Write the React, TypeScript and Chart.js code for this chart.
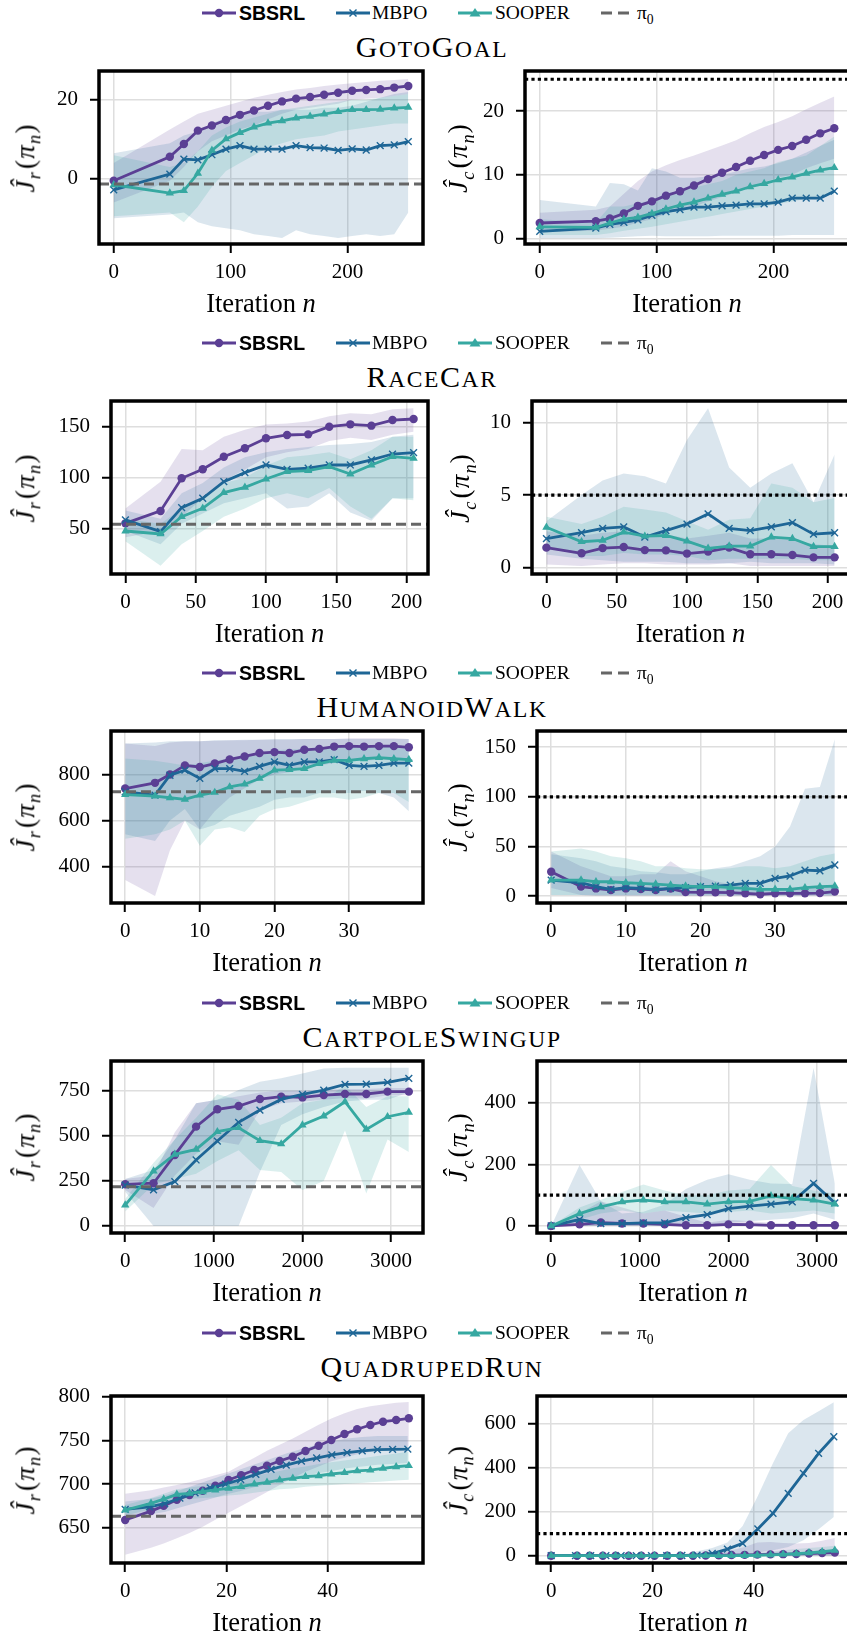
import React, { useEffect, useRef } from 'react';
import { Chart, registerables } from 'chart.js';

Chart.register(...registerables);

const SERIF = "'Liberation Serif', 'Times New Roman', serif";
const SANS = "'Liberation Sans', Arial, sans-serif";

const C_SBSRL = '#5b3f94';
const C_MBPO = '#1e6696';
const C_SOOPER = '#36a8a1';
const F_SBSRL = 'rgba(91, 63, 148, 0.16)';
const F_MBPO = 'rgba(30, 102, 150, 0.16)';
const F_SOOPER = 'rgba(54, 168, 161, 0.18)';

// ---------------- GotoGoal ----------------
const goto_iter = [0, 48, 60, 72, 84, 96, 108, 120, 132, 144, 156, 168, 180, 192, 204, 216, 228, 240, 252];
const goto_rew_sbsrl = [-0.5, 5.6, 8.8, 12.2, 13.5, 14.9, 16.2, 17.3, 18.5, 19.6, 20.3, 20.7, 21.3, 21.8, 22.3, 22.5, 22.7, 23.1, 23.5];
const goto_rew_sbsrl_lo = [-6, -0.5, 3, 7, 9.5, 11, 12.5, 13.5, 15, 16.5, 17.5, 18, 18.5, 19, 20, 20.3, 20.5, 21, 21.5];
const goto_rew_sbsrl_hi = [4, 12.5, 14.5, 16.5, 17.5, 18.5, 19.5, 20.5, 21.3, 22, 22.6, 23, 23.5, 23.9, 24.2, 24.5, 24.8, 25, 25.3];
const goto_rew_mbpo = [-2.8, 1.2, 5.0, 4.8, 6.1, 7.5, 8.4, 7.5, 7.5, 7.5, 8.4, 7.9, 7.8, 7.2, 7.6, 7.3, 8.4, 8.6, 9.4];
const goto_rew_mbpo_lo = [-10, -9, -8.5, -11, -12, -12.5, -13, -14, -14.5, -15, -13, -14, -14.5, -15, -14.5, -14, -14.5, -14, -8.5];
const goto_rew_mbpo_hi = [6.5, 9, 11, 12, 14, 15.5, 16, 17, 17, 17.5, 17.5, 17.5, 18, 18, 18.5, 19.5, 20.5, 21.5, 22];
const goto_rew_sooper = [-1.5, -3.6, -3.0, 1.4, 7.2, 10.1, 11.7, 13.1, 14.1, 14.7, 15.4, 15.8, 16.4, 17.0, 17.5, 17.5, 17.6, 17.9, 18.1];
const goto_rew_sooper_lo = [-9.5, -8.5, -11, -7, -2, 2, 4, 6, 8, 9, 10, 10.5, 11, 12, 12.5, 13, 13.5, 14, 14];
const goto_rew_sooper_hi = [6, 3, 4, 7, 11, 13, 14.5, 15.5, 16.5, 17.5, 18, 18.5, 19, 19.5, 20, 20, 20.5, 21, 21.5];
const goto_cost_sbsrl = [2.4, 2.7, 3.1, 3.9, 5.1, 5.8, 6.7, 7.4, 8.3, 9.3, 10.3, 11.2, 12.2, 13.1, 13.9, 14.5, 15.5, 16.5, 17.3];
const goto_cost_sbsrl_lo = [1, 1.2, 1.5, 1.8, 2.5, 3, 3.8, 4.5, 5, 5.8, 6.5, 7.2, 8, 8.8, 9.5, 10, 11, 11.8, 12.5];
const goto_cost_sbsrl_hi = [4, 4.5, 5, 7, 9, 10.5, 11.5, 12.3, 13, 13.8, 14.6, 15.4, 16.5, 17.5, 18.3, 19.2, 20.3, 21.3, 22.3];
const goto_cost_mbpo = [1.1, 1.6, 2.2, 2.5, 2.9, 3.6, 4.2, 4.5, 4.9, 4.9, 5.1, 5.2, 5.4, 5.4, 5.7, 6.3, 6.3, 6.3, 7.4];
const goto_cost_mbpo_lo = [0, 0, 0.1, 0.2, 0.3, 0.4, 0.3, 0.3, 0.3, 0.3, 0.4, 0.4, 0.4, 0.4, 0.4, 0.5, 0.5, 0.5, 0.5];
const goto_cost_mbpo_hi = [6, 5, 8.7, 8.5, 7.5, 11, 10.5, 9.5, 9.5, 9.7, 10, 10.5, 11, 11.3, 11.8, 12.5, 13.5, 14.5, 15.5];
const goto_cost_sooper = [1.8, 1.7, 2.4, 3.0, 3.3, 3.9, 4.6, 5.2, 5.7, 6.3, 6.9, 7.4, 8.1, 8.6, 9.2, 9.6, 10.2, 10.7, 11.1];
const goto_cost_sooper_lo = [0.5, 0.5, 0.8, 1.2, 1.5, 1.8, 2.2, 2.6, 3, 3.4, 3.8, 4.2, 4.6, 5, 5.4, 5.8, 6.2, 6.6, 7];
const goto_cost_sooper_hi = [3, 2.5, 5, 5, 5.5, 6, 7, 7.5, 8, 8.5, 9, 10, 10.5, 11, 12, 12.5, 13, 14.5, 16];

// ---------------- RaceCar ----------------
const race_iter = [0, 25, 40, 55, 70, 85, 100, 115, 130, 145, 160, 175, 190, 205];
const race_rew_sbsrl = [55.5, 67.6, 99.5, 108.3, 120.6, 128.8, 138.6, 141.8, 142.4, 149.9, 152.2, 150.9, 156.4, 157.4];
const race_rew_sbsrl_lo = [42, 48, 62, 80, 97, 108, 120, 125, 128, 136, 139, 137, 142, 145];
const race_rew_sbsrl_hi = [70, 96, 128, 127, 140, 147, 152, 153, 155, 160, 163, 162, 167, 168];
const race_rew_mbpo = [58.8, 47.4, 70.8, 80, 96.2, 105, 112.5, 108.3, 109.3, 112.5, 112.5, 117.4, 123.2, 124.5];
const race_rew_mbpo_lo = [48, 35, 55, 65, 75, 80, 85, 70, 72, 85, 66, 58, 80, 80];
const race_rew_mbpo_hi = [68, 60, 85, 95, 110, 120, 125, 128, 130, 132, 133, 135, 140, 142];
const race_rew_sooper = [48, 45.1, 62, 70.2, 85.5, 90.7, 98.8, 106, 107, 110.9, 103.7, 112.5, 120.6, 119];
const race_rew_sooper_lo = [38, 14, 35, 48, 62, 70, 80, 85, 80, 90, 72, 60, 80, 78];
const race_rew_sooper_hi = [60, 55, 70, 80, 95, 100, 112, 120, 122, 125, 118, 127, 140, 140];
const race_cost_sbsrl = [1.37, 0.98, 1.34, 1.41, 1.2, 1.18, 0.96, 1.1, 1.37, 0.91, 0.91, 0.86, 0.7, 0.7];
const race_cost_sbsrl_lo = [0.2, 0.1, 0.2, 0.3, 0.3, 0.2, 0.2, 0.2, 0.3, 0.1, 0.1, 0.1, 0.1, 0.1];
const race_cost_sbsrl_hi = [2.5, 2.2, 2.4, 2.5, 2.3, 2.3, 2.0, 2.2, 2.4, 2.0, 2.0, 1.9, 1.6, 1.5];
const race_cost_mbpo = [2.0, 2.4, 2.7, 2.8, 2.1, 2.55, 3.0, 3.7, 2.7, 2.55, 2.8, 3.1, 2.3, 2.4];
const race_cost_mbpo_lo = [0.9, 0.6, 0.5, 0.4, 0.4, 0.4, 0.3, 0.3, 0.3, 0.4, 0.3, 0.3, 0.3, 0.2];
const race_cost_mbpo_hi = [3.2, 5.0, 6.0, 6.5, 6.3, 5.8, 8.8, 11.0, 6.9, 5.5, 6.5, 7.2, 4.5, 7.8];
const race_cost_sooper = [2.78, 1.78, 1.87, 2.44, 2.16, 2.21, 1.82, 1.32, 1.48, 1.48, 2.1, 2.0, 1.44, 1.44];
const race_cost_sooper_lo = [1.5, 0.8, 0.8, 1.0, 0.9, 0.9, 0.8, 0.5, 0.6, 0.6, 0.6, 0.6, 0.5, 0.5];
const race_cost_sooper_hi = [3.5, 3.0, 3.5, 4.2, 4.0, 3.8, 3.2, 2.6, 3.3, 3.4, 5.8, 5.5, 4.5, 4.8];

// ---------------- HumanoidWalk ----------------
const hum_iter = [0, 4, 6, 8, 10, 12, 14, 16, 18, 20, 22, 24, 26, 28, 30, 32, 34, 36, 38];
const hum_rew_sbsrl = [739, 764, 800, 840, 833, 848, 866, 879, 894, 898, 894, 908, 912, 922, 924, 922, 924, 924, 919];
const hum_rew_sbsrl_lo = [340, 270, 470, 600, 560, 640, 700, 740, 780, 800, 810, 830, 840, 850, 860, 860, 865, 865, 860];
const hum_rew_sbsrl_hi = [935, 925, 940, 945, 945, 948, 950, 950, 952, 952, 952, 955, 955, 955, 958, 958, 958, 958, 955];
const hum_rew_mbpo = [725, 710, 797, 819, 783, 826, 826, 814, 836, 855, 840, 855, 855, 865, 840, 836, 840, 850, 850];
const hum_rew_mbpo_lo = [540, 510, 600, 650, 560, 580, 620, 640, 660, 690, 700, 700, 720, 720, 720, 730, 720, 700, 640];
const hum_rew_mbpo_hi = [935, 940, 945, 945, 945, 950, 950, 952, 952, 955, 955, 955, 955, 955, 955, 955, 955, 955, 955];
const hum_rew_sooper = [713, 706, 699, 692, 710, 722, 746, 758, 783, 819, 822, 826, 848, 862, 862, 869, 874, 869, 865];
const hum_rew_sooper_lo = [520, 540, 560, 600, 490, 560, 570, 550, 620, 650, 660, 680, 700, 700, 690, 700, 720, 720, 680];
const hum_rew_sooper_hi = [870, 860, 850, 840, 850, 860, 870, 880, 890, 905, 910, 910, 915, 920, 920, 925, 925, 925, 925];
const hum_cost_sbsrl = [24.5, 9.5, 7.7, 6, 7.7, 7, 6, 7.5, 4, 3.7, 3.7, 3.5, 2.7, 1.8, 2.7, 2.7, 2.7, 3, 4.5];
const hum_cost_sbsrl_lo = [8, 1, 0.5, 0.5, 0.5, 0.5, 0.5, 0.5, 0.3, 0.3, 0.3, 0.3, 0.2, 0.1, 0.2, 0.2, 0.2, 0.2, 0.3];
const hum_cost_sbsrl_hi = [45, 30, 25, 20, 20, 22, 22, 35, 25, 20, 15, 12, 10, 8, 8, 8, 9, 9, 12];
const hum_cost_mbpo = [16.1, 13.4, 9.4, 6.7, 8.4, 7.7, 6.7, 7.7, 8.4, 9.4, 10.1, 11.1, 12.8, 12.8, 17.8, 20.2, 26.2, 25.5, 31.3];
const hum_cost_mbpo_lo = [1, 1, 0.5, 0.5, 0.5, 0.5, 0.5, 0.5, 0.5, 0.5, 0.5, 0.5, 0.5, 0.5, 0.5, 0.5, 0.5, 0.5, 0.5];
const hum_cost_mbpo_hi = [42, 38, 35, 30, 28, 25, 24, 22, 22, 25, 28, 30, 35, 40, 50, 70, 108, 110, 158];
const hum_cost_sooper = [16, 16, 14.4, 14.4, 13.4, 12.8, 12.1, 11.1, 10.1, 9.4, 9.4, 8.4, 7.7, 6.7, 6.7, 6.7, 8.4, 9.4, 10.1];
const hum_cost_sooper_lo = [1, 1, 1, 1, 1, 1, 1, 1, 1, 1, 1, 1, 1, 1, 1, 1, 1, 1, 1];
const hum_cost_sooper_hi = [45, 48, 45, 40, 38, 35, 30, 30, 28, 27, 27, 28, 30, 30, 28, 30, 35, 40, 43];

// ---------------- CartpoleSwingup ----------------
const cart_iter = [0, 320, 560, 800, 1040, 1280, 1520, 1760, 2000, 2240, 2480, 2720, 2960, 3200];
const cart_rew_sbsrl = [231, 237, 394, 551, 647, 665, 704, 717, 713, 726, 732, 732, 745, 745];
const cart_rew_sbsrl_lo = [200, 100, 280, 400, 470, 450, 640, 680, 690, 700, 710, 705, 725, 725];
const cart_rew_sbsrl_hi = [260, 280, 520, 680, 700, 720, 740, 750, 750, 755, 760, 760, 765, 765];
const cart_rew_mbpo = [227, 200, 246, 366, 471, 575, 643, 702, 730, 754, 785, 787, 796, 819];
const cart_rew_mbpo_lo = [190, 0, 0, 0, 0, 0, 300, 560, 620, 660, 690, 700, 700, 740];
const cart_rew_mbpo_hi = [260, 310, 480, 680, 700, 754, 800, 820, 846, 874, 878, 878, 878, 878];
const cart_rew_sooper = [116, 305, 397, 425, 523, 545, 473, 455, 560, 610, 689, 536, 606, 630];
const cart_rew_sooper_lo = [80, 230, 260, 290, 360, 420, 310, 300, 200, 250, 530, 180, 480, 410];
const cart_rew_sooper_hi = [150, 350, 480, 600, 730, 700, 560, 600, 680, 700, 780, 660, 720, 720];
const cart_cost_sbsrl = [0, 5, 11, 8, 8, 5, 2, 2, 5, 4, 2, 2, 2, 2];
const cart_cost_sbsrl_lo = [0, 0, 0, 0, 0, 0, 0, 0, 0, 0, 0, 0, 0, 0];
const cart_cost_sbsrl_hi = [0, 40, 80, 60, 40, 50, 30, 10, 20, 15, 10, 8, 5, 5];
const cart_cost_mbpo = [0, 20.7, 7.6, 7.6, 9.8, 9.8, 27, 37, 56.5, 64, 70.7, 78, 138, 75];
const cart_cost_mbpo_lo = [0, 0, 0, 0, 0, 0, 0, 2, 10, 15, 20, 25, 40, 20];
const cart_cost_mbpo_hi = [0, 198, 80, 40, 46, 70, 120, 150, 168, 150, 138, 136, 513, 138];
const cart_cost_sooper = [0, 40, 62, 78, 83.7, 78, 78, 70.7, 78, 80, 97.8, 89, 83.7, 70.7];
const cart_cost_sooper_lo = [0, 20, 40, 50, 40, 50, 45, 40, 45, 50, 40, 45, 50, 40];
const cart_cost_sooper_hi = [0, 60, 85, 110, 135, 115, 100, 100, 115, 120, 198, 130, 115, 105];

// ---------------- QuadrupedRun ----------------
const quad_iter = [0, 5.1, 7.6, 10.2, 12.7, 15.3, 17.8, 20.4, 22.9, 25.5, 28, 30.5, 33.1, 35.6, 38.2, 40.7, 43.3, 45.8, 48.4, 50.9, 53.5, 56];
const quad_iter_mbpo = [0, 4.8, 7.8, 10.8, 13.8, 16.8, 19.8, 22.8, 25.8, 28.8, 31.8, 34.8, 37.8, 40.8, 43.8, 46.8, 49.8, 52.8, 55.8];
const quad_rew_sbsrl = [658.8, 669, 675, 682, 687.4, 692.4, 698, 704.6, 710, 716, 721, 726.4, 731.3, 737.8, 743.9, 750.4, 757.3, 762.7, 767.6, 771.4, 773.3, 775.3];
const quad_rew_sbsrl_lo = [619, 627, 632, 638, 644, 651, 659, 667, 675, 683, 691, 699, 707, 714, 720, 726, 730, 734, 737, 739, 741, 743];
const quad_rew_sbsrl_hi = [689, 693, 696, 699, 702, 706, 710, 714, 722, 730, 738, 745, 752, 760, 768, 775, 781, 786, 789, 791, 793, 794];
const quad_rew_mbpo = [671, 673.8, 677.5, 683.8, 690, 695.5, 700, 705.2, 711, 716.7, 721.7, 726.2, 729.8, 733.3, 736, 738, 739.5, 739.8, 740];
const quad_rew_mbpo_lo = [662, 665, 668, 673, 678, 683, 688, 692, 697, 701, 705, 709, 712, 715, 718, 720, 722, 723, 724];
const quad_rew_mbpo_hi = [680, 683, 687, 693, 699, 705, 711, 717, 723, 729, 735, 740, 745, 749, 752, 754, 755, 755, 755];
const quad_rew_sooper = [670.3, 677.9, 682.8, 688.2, 689.4, 691.2, 693.2, 695.1, 697, 700, 702, 704.6, 706.6, 708.4, 709.5, 711.5, 713, 715, 716, 718, 719.8, 721];
const quad_rew_sooper_lo = [664, 671, 676, 682, 683, 684, 685, 687, 688, 690, 692, 694, 695, 697, 698, 699, 700, 701, 702, 703, 704, 705];
const quad_rew_sooper_hi = [676, 684, 689, 694, 696, 698, 701, 703, 706, 709, 712, 715, 718, 720, 723, 725, 727, 729, 731, 733, 735, 737];
const quad_cost_sbsrl = [0, 0, 0, 0, 0, 0, 0, 0, 0, 0, 0, 1, 2, 3, 4, 5, 6, 7, 8, 10, 12, 14];
const quad_cost_sbsrl_lo = [0, 0, 0, 0, 0, 0, 0, 0, 0, 0, 0, 0, 0, 0, 0, 0, 0, 0, 0, 0, 0, 0];
const quad_cost_sbsrl_hi = [0, 0, 0, 0, 0, 0, 0, 0, 0, 1, 3, 8, 15, 25, 40, 60, 62, 58, 55, 58, 68, 80];
const quad_cost_mbpo = [0, 0, 0, 0, 0, 0, 0, 0, 1, 3, 10, 30, 56, 121, 192, 282, 373, 464, 539];
const quad_cost_mbpo_lo = [0, 0, 0, 0, 0, 0, 0, 0, 0, 0, 0, 2, 5, 15, 25, 40, 70, 120, 175];
const quad_cost_mbpo_hi = [0, 0, 0, 0, 0, 0, 0, 1, 5, 20, 35, 60, 135, 270, 420, 555, 615, 655, 695];
const quad_cost_sooper = [0, 0, 0, 0, 0, 0, 0, 0, 0, 0, 0, 0, 0, 0, 1, 2, 4, 6, 9, 13, 18, 24];
const quad_cost_sooper_lo = [0, 0, 0, 0, 0, 0, 0, 0, 0, 0, 0, 0, 0, 0, 0, 0, 0, 0, 0, 0, 0, 0];
const quad_cost_sooper_hi = [0, 0, 0, 0, 0, 0, 0, 0, 0, 0, 1, 2, 3, 5, 8, 12, 18, 25, 30, 35, 40, 45];

// reference lines
const pi0_values = [-1.3, 54.6, 725, 218, 663];
const cost_thresholds = [25, 5, 100, 100, 100];

// axis ticks
const goto_xticks = [0, 100, 200];
const race_xticks = [0, 50, 100, 150, 200];
const hum_xticks = [0, 10, 20, 30];
const cart_xticks = [0, 1000, 2000, 3000];
const quad_xticks = [0, 20, 40];
const goto_rew_yticks = [0, 20];
const goto_cost_yticks = [0, 10, 20];
const race_rew_yticks = [50, 100, 150];
const race_cost_yticks = [0, 5, 10];
const hum_rew_yticks = [400, 600, 800];
const hum_cost_yticks = [0, 50, 100, 150];
const cart_rew_yticks = [0, 250, 500, 750];
const cart_cost_yticks = [0, 200, 400];
const quad_rew_yticks = [650, 700, 750, 800];
const quad_cost_yticks = [0, 200, 400, 600];

const titles = ['GotoGoal', 'RaceCar', 'HumanoidWalk', 'CartpoleSwingup', 'QuadrupedRun'];

type Band = { x: number[]; y: number[]; lo: number[]; hi: number[] };
type PanelDef = {
  frame: number[];
  xRange: number[];
  xTicks: number[];
  yRange: number[];
  yTicks: number[];
  sbsrl: Band;
  mbpo: Band;
  sooper: Band;
  hline: number;
  kind: 'pi0' | 'thr';
  sub: string;
  yLabelX: number;
};

const B = (x: number[], y: number[], lo: number[], hi: number[]): Band => ({ x, y, lo, hi });

const ROW_OFF = [0, 330, 660, 990, 1320];

const PANELS: PanelDef[][] = [
  [
    { frame: [99, 71, 423, 244], xRange: [-12.6, 264.6], xTicks: goto_xticks, yRange: [-16.5, 27.3], yTicks: goto_rew_yticks,
      sbsrl: B(goto_iter, goto_rew_sbsrl, goto_rew_sbsrl_lo, goto_rew_sbsrl_hi),
      mbpo: B(goto_iter, goto_rew_mbpo, goto_rew_mbpo_lo, goto_rew_mbpo_hi),
      sooper: B(goto_iter, goto_rew_sooper, goto_rew_sooper_lo, goto_rew_sooper_hi),
      hline: pi0_values[0], kind: 'pi0', sub: 'r', yLabelX: 30 },
    { frame: [525, 71, 849, 244], xRange: [-12.6, 264.6], xTicks: goto_xticks, yRange: [-0.9, 26.3], yTicks: goto_cost_yticks,
      sbsrl: B(goto_iter, goto_cost_sbsrl, goto_cost_sbsrl_lo, goto_cost_sbsrl_hi),
      mbpo: B(goto_iter, goto_cost_mbpo, goto_cost_mbpo_lo, goto_cost_mbpo_hi),
      sooper: B(goto_iter, goto_cost_sooper, goto_cost_sooper_lo, goto_cost_sooper_hi),
      hline: cost_thresholds[0], kind: 'thr', sub: 'c', yLabelX: 463 },
  ],
  [
    { frame: [111, 401, 428, 574], xRange: [-10.25, 215.25], xTicks: race_xticks, yRange: [6, 175], yTicks: race_rew_yticks,
      sbsrl: B(race_iter, race_rew_sbsrl, race_rew_sbsrl_lo, race_rew_sbsrl_hi),
      mbpo: B(race_iter, race_rew_mbpo, race_rew_mbpo_lo, race_rew_mbpo_hi),
      sooper: B(race_iter, race_rew_sooper, race_rew_sooper_lo, race_rew_sooper_hi),
      hline: pi0_values[1], kind: 'pi0', sub: 'r', yLabelX: 30 },
    { frame: [532, 401, 849, 574], xRange: [-10.25, 215.25], xTicks: race_xticks, yRange: [-0.45, 11.5], yTicks: race_cost_yticks,
      sbsrl: B(race_iter, race_cost_sbsrl, race_cost_sbsrl_lo, race_cost_sbsrl_hi),
      mbpo: B(race_iter, race_cost_mbpo, race_cost_mbpo_lo, race_cost_mbpo_hi),
      sooper: B(race_iter, race_cost_sooper, race_cost_sooper_lo, race_cost_sooper_hi),
      hline: cost_thresholds[1], kind: 'thr', sub: 'c', yLabelX: 465 },
  ],
  [
    { frame: [111, 731, 423, 903], xRange: [-1.9, 39.9], xTicks: hum_xticks, yRange: [240, 990], yTicks: hum_rew_yticks,
      sbsrl: B(hum_iter, hum_rew_sbsrl, hum_rew_sbsrl_lo, hum_rew_sbsrl_hi),
      mbpo: B(hum_iter, hum_rew_mbpo, hum_rew_mbpo_lo, hum_rew_mbpo_hi),
      sooper: B(hum_iter, hum_rew_sooper, hum_rew_sooper_lo, hum_rew_sooper_hi),
      hline: pi0_values[2], kind: 'pi0', sub: 'r', yLabelX: 30 },
    { frame: [537, 731, 849, 903], xRange: [-1.9, 39.9], xTicks: hum_xticks, yRange: [-7, 166.3], yTicks: hum_cost_yticks,
      sbsrl: B(hum_iter, hum_cost_sbsrl, hum_cost_sbsrl_lo, hum_cost_sbsrl_hi),
      mbpo: B(hum_iter, hum_cost_mbpo, hum_cost_mbpo_lo, hum_cost_mbpo_hi),
      sooper: B(hum_iter, hum_cost_sooper, hum_cost_sooper_lo, hum_cost_sooper_hi),
      hline: cost_thresholds[2], kind: 'thr', sub: 'c', yLabelX: 463 },
  ],
  [
    { frame: [111, 1061, 423, 1233], xRange: [-160, 3360], xTicks: cart_xticks, yRange: [-39, 915], yTicks: cart_rew_yticks,
      sbsrl: B(cart_iter, cart_rew_sbsrl, cart_rew_sbsrl_lo, cart_rew_sbsrl_hi),
      mbpo: B(cart_iter, cart_rew_mbpo, cart_rew_mbpo_lo, cart_rew_mbpo_hi),
      sooper: B(cart_iter, cart_rew_sooper, cart_rew_sooper_lo, cart_rew_sooper_hi),
      hline: pi0_values[3], kind: 'pi0', sub: 'r', yLabelX: 30 },
    { frame: [537, 1061, 849, 1233], xRange: [-160, 3360], xTicks: cart_xticks, yRange: [-23, 536], yTicks: cart_cost_yticks,
      sbsrl: B(cart_iter, cart_cost_sbsrl, cart_cost_sbsrl_lo, cart_cost_sbsrl_hi),
      mbpo: B(cart_iter, cart_cost_mbpo, cart_cost_mbpo_lo, cart_cost_mbpo_hi),
      sooper: B(cart_iter, cart_cost_sooper, cart_cost_sooper_lo, cart_cost_sooper_hi),
      hline: cost_thresholds[3], kind: 'thr', sub: 'c', yLabelX: 463 },
  ],
  [
    { frame: [111, 1396, 423, 1563], xRange: [-2.8, 58.8], xTicks: quad_xticks, yRange: [609.6, 800.8], yTicks: quad_rew_yticks,
      sbsrl: B(quad_iter, quad_rew_sbsrl, quad_rew_sbsrl_lo, quad_rew_sbsrl_hi),
      mbpo: B(quad_iter_mbpo, quad_rew_mbpo, quad_rew_mbpo_lo, quad_rew_mbpo_hi),
      sooper: B(quad_iter, quad_rew_sooper, quad_rew_sooper_lo, quad_rew_sooper_hi),
      hline: pi0_values[4], kind: 'pi0', sub: 'r', yLabelX: 30 },
    { frame: [537, 1396, 849, 1563], xRange: [-2.8, 58.8], xTicks: quad_xticks, yRange: [-33, 723.6], yTicks: quad_cost_yticks,
      sbsrl: B(quad_iter, quad_cost_sbsrl, quad_cost_sbsrl_lo, quad_cost_sbsrl_hi),
      mbpo: B(quad_iter_mbpo, quad_cost_mbpo, quad_cost_mbpo_lo, quad_cost_mbpo_hi),
      sooper: B(quad_iter, quad_cost_sooper, quad_cost_sooper_lo, quad_cost_sooper_hi),
      hline: cost_thresholds[4], kind: 'thr', sub: 'c', yLabelX: 463 },
  ],
];

const AXW = 90;
const PADT = 30;
const PADR = 20;
const AXH = 50;

const framePlugin = {
  id: 'frame',
  afterDraw(chart: any) {
    const { ctx, chartArea: a } = chart;
    ctx.save();
    ctx.strokeStyle = '#000';
    ctx.lineWidth = 3.5;
    ctx.setLineDash([]);
    ctx.strokeRect(a.left, a.top, a.right - a.left, a.bottom - a.top);
    ctx.restore();
  },
};

function pts(xs: number[], ys: number[]) {
  return xs.map((x, i) => ({ x, y: ys[i] }));
}

function Panel({ def }: { def: PanelDef }) {
  const ref = useRef<HTMLCanvasElement | null>(null);
  const [x0, y0, x1, y1] = def.frame;
  const W = x1 - x0 + AXW + PADR;
  const H = y1 - y0 + PADT + AXH;

  useEffect(() => {
    if (!ref.current) return;
    const line = (b: Band, color: string, style: string, radius: number, bw: number) => ({
      data: pts(b.x, b.y),
      borderColor: color,
      backgroundColor: color,
      borderWidth: 2.8,
      pointStyle: style,
      pointRadius: radius,
      pointBackgroundColor: color,
      pointBorderColor: color,
      pointBorderWidth: bw,
      fill: false,
      tension: 0,
    });
    const bandHi = (b: Band, fillColor: string, target: number) => ({
      data: pts(b.x, b.hi),
      borderWidth: 0,
      borderColor: 'rgba(0,0,0,0)',
      pointRadius: 0,
      backgroundColor: fillColor,
      fill: { target },
      tension: 0,
    });
    const bandLo = (b: Band) => ({
      data: pts(b.x, b.lo),
      borderWidth: 0,
      borderColor: 'rgba(0,0,0,0)',
      pointRadius: 0,
      fill: false,
      tension: 0,
    });
    const isPi = def.kind === 'pi0';
    const datasets: any[] = [
      {
        data: [
          { x: def.xRange[0], y: def.hline },
          { x: def.xRange[1], y: def.hline },
        ],
        borderColor: isPi ? '#666666' : '#000000',
        borderWidth: isPi ? 3 : 3.2,
        borderDash: isPi ? [10, 5] : [3.2, 3.2],
        borderCapStyle: 'butt',
        pointRadius: 0,
        fill: false,
      },
      line(def.sooper, C_SOOPER, 'triangle', 4.8, 0),
      line(def.mbpo, C_MBPO, 'crossRot', 4.8, 1.4),
      line(def.sbsrl, C_SBSRL, 'circle', 4.2, 0),
      bandHi(def.sooper, F_SOOPER, 5),
      bandLo(def.sooper),
      bandHi(def.mbpo, F_MBPO, 7),
      bandLo(def.mbpo),
      bandHi(def.sbsrl, F_SBSRL, 9),
      bandLo(def.sbsrl),
    ];
    const grid = {
      color: '#dedede',
      lineWidth: 1.5,
      tickColor: '#000',
      tickWidth: 2,
      tickLength: 9,
      drawTicks: true,
      drawOnChartArea: true,
    };
    const chart = new Chart(ref.current, {
      type: 'line',
      data: { datasets },
      options: {
        responsive: false,
        maintainAspectRatio: false,
        animation: false,
        events: [],
        layout: { padding: { left: 0, top: PADT, right: PADR, bottom: 0 } },
        plugins: {
          legend: { display: false },
          tooltip: { enabled: false },
          filler: { drawTime: 'beforeDatasetsDraw', propagate: false },
        },
        scales: {
          x: {
            type: 'linear',
            min: def.xRange[0],
            max: def.xRange[1],
            afterBuildTicks: (s: any) => {
              s.ticks = def.xTicks.map((v) => ({ value: v }));
            },
            afterFit: (s: any) => {
              s.height = AXH;
            },
            grid,
            border: { display: false },
            ticks: {
              font: { family: SERIF, size: 21 },
              color: '#000',
              padding: 7,
              maxRotation: 0,
              autoSkip: false,
              callback: (v: any) => String(v),
            },
          },
          y: {
            type: 'linear',
            min: def.yRange[0],
            max: def.yRange[1],
            afterBuildTicks: (s: any) => {
              s.ticks = def.yTicks.map((v) => ({ value: v }));
            },
            afterFit: (s: any) => {
              s.width = AXW;
            },
            grid,
            border: { display: false },
            ticks: {
              font: { family: SERIF, size: 21 },
              color: '#000',
              padding: 12,
              autoSkip: false,
              callback: (v: any) => String(v),
            },
          },
        },
      } as any,
      plugins: [framePlugin],
    });
    return () => chart.destroy();
  }, []);

  return (
    <>
      <canvas
        ref={ref}
        width={W}
        height={H}
        style={{ position: 'absolute', left: x0 - AXW, top: y0 - PADT, width: W, height: H }}
      />
      <div
        style={{
          position: 'absolute',
          left: (x0 + x1) / 2,
          top: y1 + 44,
          transform: 'translateX(-50%)',
          fontFamily: SERIF,
          fontSize: 26.5,
          lineHeight: '30px',
          whiteSpace: 'nowrap',
          color: '#000',
        }}
      >
        Iteration <i>n</i>
      </div>
      <div
        style={{
          position: 'absolute',
          left: def.yLabelX,
          top: (y0 + y1) / 2,
          transform: 'translate(-50%, -50%) rotate(-90deg)',
          fontFamily: SERIF,
          fontSize: 27,
          lineHeight: '30px',
          letterSpacing: '1.2px',
          whiteSpace: 'nowrap',
          color: '#000',
        }}
      >
        <i>Ĵ</i>
        <sub style={{ fontSize: '0.68em', fontStyle: 'italic' }}>{def.sub}</sub>
        <span style={{ marginLeft: 2 }}>(</span>
        <i>π</i>
        <sub style={{ fontSize: '0.68em', fontStyle: 'italic' }}>n</sub>
        <span>)</span>
      </div>
    </>
  );
}

function Title({ text, top }: { text: string; top: number }) {
  return (
    <div
      style={{
        position: 'absolute',
        left: 0,
        width: 864,
        top,
        textAlign: 'center',
        fontFamily: SERIF,
        fontSize: 30,
        lineHeight: '34px',
        letterSpacing: '1.6px',
        whiteSpace: 'nowrap',
        color: '#000',
      }}
    >
      {text.split('').map((c, i) =>
        c === c.toUpperCase() ? (
          <span key={i}>{c}</span>
        ) : (
          <span key={i} style={{ fontSize: 23.5, textTransform: 'uppercase' }}>
            {c}
          </span>
        )
      )}
    </div>
  );
}

function Legend({ top }: { top: number }) {
  const txt = (left: number, content: React.ReactNode, bold = false) => (
    <span
      style={{
        position: 'absolute',
        left,
        top: 0,
        lineHeight: '20px',
        fontFamily: bold ? SANS : SERIF,
        fontWeight: bold ? 'bold' : 'normal',
        fontSize: bold ? 19.5 : 19.5,
        whiteSpace: 'nowrap',
        color: '#000',
      }}
    >
      {content}
    </span>
  );
  return (
    <div style={{ position: 'absolute', left: 0, top, width: 847, height: 20 }}>
      <svg style={{ position: 'absolute', left: 202, top: 0 }} width={34} height={20}>
        <line x1={0} y1={10} x2={34} y2={10} stroke={C_SBSRL} strokeWidth={2.8} />
        <circle cx={17} cy={10} r={4.2} fill={C_SBSRL} />
      </svg>
      {txt(239, 'SBSRL', true)}
      <svg style={{ position: 'absolute', left: 336, top: 0 }} width={34} height={20}>
        <line x1={0} y1={10} x2={34} y2={10} stroke={C_MBPO} strokeWidth={2.8} />
        <line x1={13.5} y1={6.5} x2={20.5} y2={13.5} stroke={C_MBPO} strokeWidth={1.4} />
        <line x1={13.5} y1={13.5} x2={20.5} y2={6.5} stroke={C_MBPO} strokeWidth={1.4} />
      </svg>
      {txt(372, 'MBPO')}
      <svg style={{ position: 'absolute', left: 458, top: 0 }} width={34} height={20}>
        <line x1={0} y1={10} x2={34} y2={10} stroke={C_SOOPER} strokeWidth={2.8} />
        <polygon points="17,5 22.5,13.5 11.5,13.5" fill={C_SOOPER} />
      </svg>
      {txt(495, 'SOOPER')}
      <svg style={{ position: 'absolute', left: 598, top: 0 }} width={34} height={20}>
        <line x1={3} y1={10} x2={31} y2={10} stroke="#666666" strokeWidth={3} strokeDasharray="11 6" />
      </svg>
      {txt(
        637,
        <>
          π<sub style={{ fontSize: '0.7em' }}>0</sub>
        </>
      )}
    </div>
  );
}

export default function App() {
  return (
    <div
      style={{
        position: 'fixed',
        left: 0,
        top: 0,
        width: 847,
        height: 1635,
        overflow: 'hidden',
        background: '#ffffff',
      }}
    >
      {PANELS.map((row, i) => (
        <React.Fragment key={i}>
          <Legend top={ROW_OFF[i] + 3} />
          <Title text={titles[i]} top={ROW_OFF[i] + 30} />
          <Panel def={row[0]} />
          <Panel def={row[1]} />
        </React.Fragment>
      ))}
    </div>
  );
}
